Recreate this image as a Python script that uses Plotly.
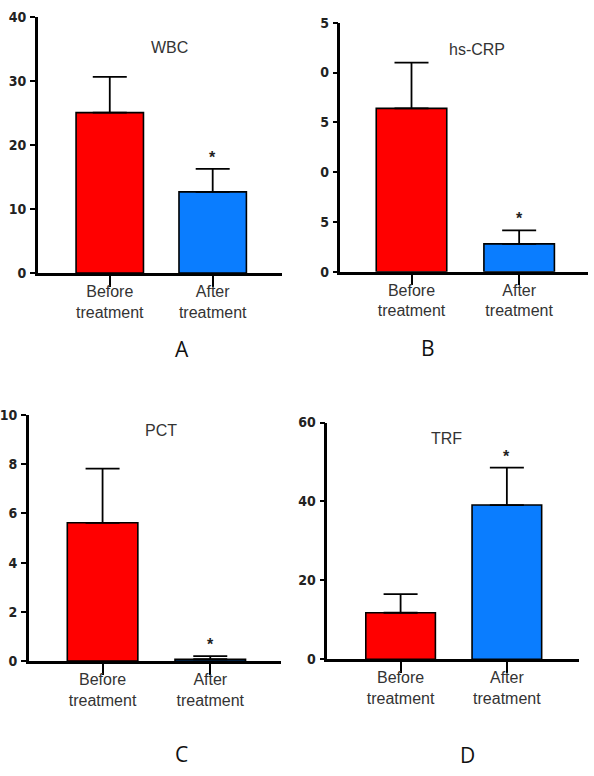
import plotly.graph_objects as go

W, H = 594, 776

groups = ["Before<br>treatment", "After<br>treatment"]
titles = ["WBC", "hs-CRP", "PCT", "TRF"]
letters = ["A", "B", "C", "D"]
means = [[25.1, 12.7], [16.4, 2.8], [5.62, 0.07], [11.8, 39.1]]
sds = [[5.6, 3.6], [4.6, 1.35], [2.2, 0.13], [4.7, 9.5]]
star_idx = [1, 1, 1, 1]
ymax = [40, 25, 10, 60]
ytickvals = [[0, 10, 20, 30, 40], [0, 5, 10, 15, 20, 25], [0, 2, 4, 6, 8, 10], [0, 20, 40, 60]]
yticktext = [["0", "10", "20", "30", "40"], ["0", "5", "0", "5", "0", "5"],
             ["0", "2", "4", "6", "8", "10"], ["0", "20", "40", "60"]]
colors = ["#FF0000", "#0A7DFF"]

# layout boxes in pixels: (x0, x1, ytop, ybottom, xrange)
boxes = [
    (33, 279, 9.5, 270.7, (-0.70, 1.67)),
    (338.3, 588, 15, 269.3, (-0.66, 1.64)),
    (24, 278.7, 415.7, 666.7, (-0.685, 1.66)),
    (325, 579, 423.3, 665, (-0.69, 1.68)),
]
title_pos = [(166, 40.7), (476, 42.7), (157, 431.7), (445, 440)]
letter_pos = [(178, 348), (427, 347), (178, 762), (466, 763)]

fig = go.Figure()
layout = dict(width=W, height=H, margin=dict(l=0, r=0, t=0, b=0),
              paper_bgcolor="white", plot_bgcolor="white", showlegend=False,
              annotations=[])

for i in range(4):
    sfx = "" if i == 0 else str(i + 1)
    x0, x1, yt, yb, xr = boxes[i]
    fig.add_trace(go.Bar(
        x=[0, 1], y=means[i], width=0.655,
        marker=dict(color=colors, line=dict(color="black", width=1.6)),
        error_y=dict(type="data", array=sds[i], arrayminus=[0, 0], symmetric=False,
                     color="black", thickness=1.8, width=17),
        xaxis="x" + sfx, yaxis="y" + sfx,
    ))
    layout["xaxis" + sfx] = dict(
        domain=[x0 / W, x1 / W], range=list(xr), anchor="y" + sfx,
        tickvals=[0, 1], ticktext=groups, showline=True, linecolor="black",
        linewidth=2.5, ticks="outside", ticklen=11, tickwidth=2, tickcolor="black",
        showgrid=False, zeroline=False, fixedrange=True, ticklabelstandoff=-9,
        tickfont=dict(family="Liberation Sans, Arial", size=16, color="#333333"),
    )
    layout["yaxis" + sfx] = dict(
        domain=[1 - yb / H, 1 - yt / H], range=[0, ymax[i]], anchor="x" + sfx,
        tickvals=ytickvals[i], ticktext=yticktext[i], showline=True, linecolor="black",
        linewidth=2.5, ticks="outside", ticklen=5, tickwidth=2, tickcolor="black",
        showgrid=False, zeroline=False, fixedrange=True, ticklabelstandoff=1,
        tickfont=dict(family="DejaVu Sans Condensed, Liberation Sans",
                      size=14, color="#222222", weight="bold"),
    )
    tx, ty = title_pos[i]
    layout["annotations"].append(dict(
        x=tx / W, y=1 - ty / H, xref="paper", yref="paper", text=titles[i],
        showarrow=False, xanchor="center", yanchor="middle",
        font=dict(family="Liberation Sans, Arial", size=16, color="#333333")))
    lx, ly = letter_pos[i]
    layout["annotations"].append(dict(
        x=lx / W, y=1 - ly / H, xref="paper", yref="paper", text=letters[i],
        showarrow=False, xanchor="center", yanchor="middle", borderpad=0,
        font=dict(family="Open Sans, Noto Sans", size=21, color="#111111")))
    j = star_idx[i]
    layout["annotations"].append(dict(
        x=j, y=means[i][j] + sds[i][j], xref="x" + sfx, yref="y" + sfx, text="*",
        showarrow=False, xanchor="center", yanchor="bottom", yshift=1,
        font=dict(family="Liberation Sans, Arial", size=16, color="#222222", weight="bold")))

fig.update_layout(**layout)
fig.write_html(
    "out.html",
    config={"displayModeBar": False},
    post_script="document.body.style.margin='0';document.body.style.overflow='hidden';",
)
